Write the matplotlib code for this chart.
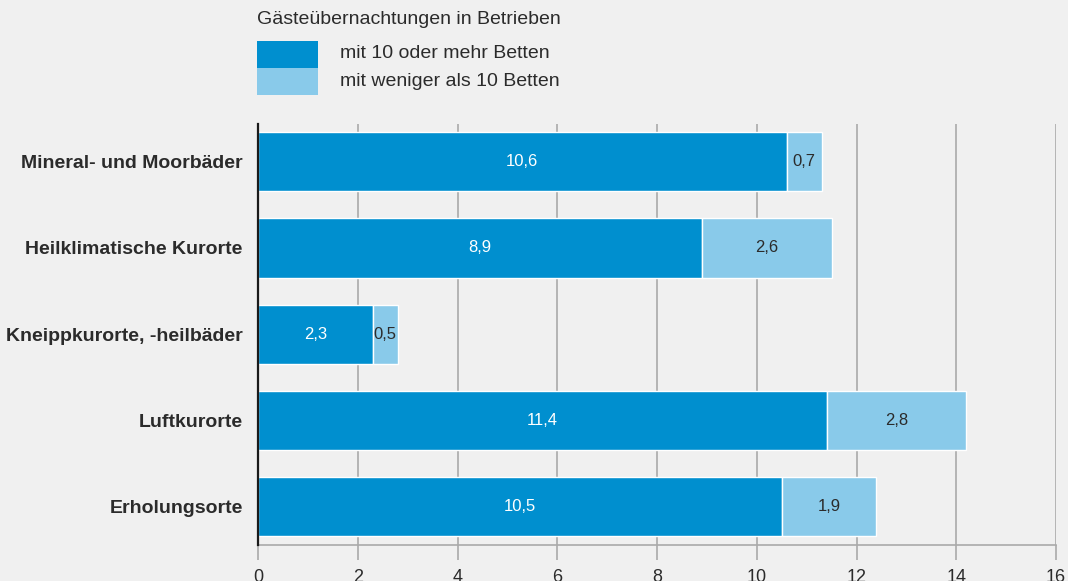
import matplotlib
matplotlib.use("Agg")
import matplotlib.pyplot as plt
from matplotlib.patches import Rectangle

categories = ["Mineral- und Moorbäder", "Heilklimatische Kurorte",
              "Kneippkurorte, -heilbäder", "Luftkurorte", "Erholungsorte"]
mehr10 = [10.6, 8.9, 2.3, 11.4, 10.5]
weniger10 = [0.7, 2.6, 0.5, 2.8, 1.9]
xticks = [0, 2, 4, 6, 8, 10, 12, 14, 16]
legend_title = "Gästeübernachtungen in Betrieben"
series_names = ["mit 10 oder mehr Betten", "mit weniger als 10 Betten"]

c_dark = "#008FCF"
c_light = "#89CAEA"
bg = "#F0F0F0"
txt = "#2B2B2B"

plt.rcParams['font.family'] = ['Liberation Sans', 'DejaVu Sans']

fig = plt.figure(figsize=(10.68, 5.81), dpi=100, facecolor=bg)
ax = fig.add_axes([258/1068, 1-545/581, (1056-258)/1068, (545-124)/581])
ax.set_facecolor(bg)

y = list(range(len(categories)))
h = 0.686
ax.barh(y, mehr10, height=h, color=c_dark, edgecolor="white", linewidth=1.0, zorder=3)
ax.barh(y, weniger10, left=mehr10, height=h, color=c_light, edgecolor="white", linewidth=1.0, zorder=3)

def fmt(v):
    return f"{v:.1f}".replace(".", ",")

for i in y:
    ax.text(mehr10[i] / 2, i, fmt(mehr10[i]), ha="center", va="center",
            color="white", fontsize=12, zorder=4)
    ax.text(mehr10[i] + weniger10[i] / 2, i, fmt(weniger10[i]), ha="center", va="center",
            color=txt, fontsize=12, zorder=4)

ax.set_xlim(0, 16)
ax.set_ylim(4.45, -0.44)
ax.set_xticks(xticks)
ax.set_xticklabels([str(t) for t in xticks], fontsize=13, color=txt)
ax.set_yticks(y)
ax.set_yticklabels(categories, fontsize=14, fontweight="bold", color=txt)
ax.tick_params(axis="y", length=0, pad=11)
ax.tick_params(axis="x", length=11, width=1.2, color="#AAAAAA", pad=6)
ax.xaxis.grid(True, color="#AAAAAA", linewidth=1.2, zorder=0)
ax.yaxis.grid(False)
for s in ["top", "right"]:
    ax.spines[s].set_visible(False)
ax.spines["bottom"].set_color("#AAAAAA")
ax.spines["bottom"].set_linewidth(1.2)
ax.spines["left"].set_color("#1A1A1A")
ax.spines["left"].set_linewidth(1.6)
ax.spines["left"].set_zorder(5)

# Legend (manual, in figure pixel coordinates)
W, H = 1068, 581
fig.text(257/W, 1-20/H, legend_title, ha="left", va="center", fontsize=14, color=txt)
fig.patches.append(Rectangle((257/W, 1-68/H), 61/W, 27/H, transform=fig.transFigure,
                             facecolor=c_dark, edgecolor="none"))
fig.patches.append(Rectangle((257/W, 1-95/H), 61/W, 27/H, transform=fig.transFigure,
                             facecolor=c_light, edgecolor="none"))
fig.text(340/W, 1-54/H, series_names[0], ha="left", va="center", fontsize=14, color=txt)
fig.text(340/W, 1-81/H, series_names[1], ha="left", va="center", fontsize=14, color=txt)

fig.savefig("out.png", dpi=100, facecolor=bg)
